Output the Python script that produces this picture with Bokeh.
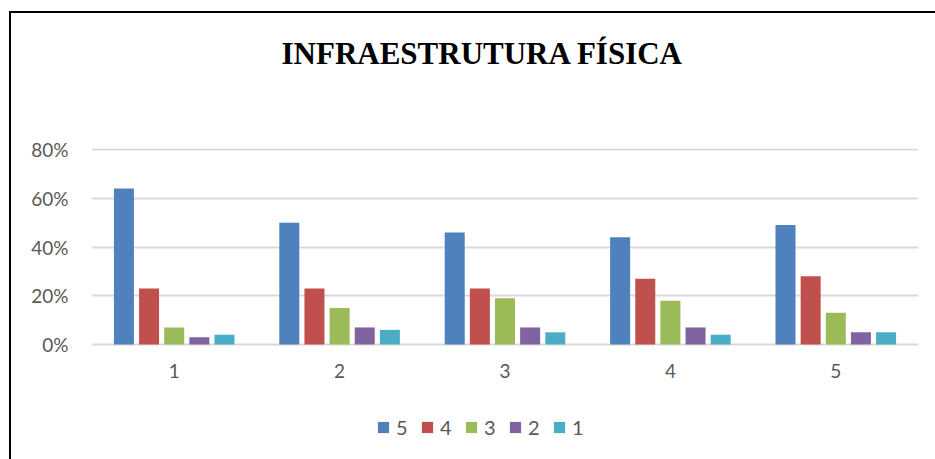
from bokeh.plotting import figure
from bokeh.models import (Range1d, ColumnDataSource, Legend, LegendItem, FixedTicker,
                          NumeralTickFormatter, Title)
from bokeh.core.properties import value
from bokeh.transform import dodge
from bokeh.embed import file_html
from bokeh.resources import INLINE

categories = [1, 2, 3, 4, 5]
category_labels = ["1", "2", "3", "4", "5"]
series_names = ["5", "4", "3", "2", "1"]
s5 = [0.64, 0.50, 0.46, 0.44, 0.49]
s4 = [0.23, 0.23, 0.23, 0.27, 0.28]
s3 = [0.07, 0.15, 0.19, 0.18, 0.13]
s2 = [0.03, 0.07, 0.07, 0.07, 0.05]
s1 = [0.04, 0.06, 0.05, 0.04, 0.05]
colors = ["#4F81BD", "#C0504D", "#9BBB59", "#8064A2", "#4BACC6"]
y_ticks = [0, 0.2, 0.4, 0.6, 0.8]

src = ColumnDataSource(dict(x=categories, lab=category_labels,
                            s5=s5, s4=s4, s3=s3, s2=s2, s1=s1))

# frame extends below the 0% line so that category labels and legend live inside it
px_per_unit = 195 / 0.8
p = figure(frame_width=827, frame_height=311, output_backend="svg", toolbar_location=None,
           x_range=Range1d(0.5, 5.5),
           y_range=Range1d(-115 / px_per_unit, 0.8 + 1 / px_per_unit),
           x_axis_location=None,
           min_border_left=80, min_border_right=17, min_border_top=135, min_border_bottom=0)
p.styles = {"border-top": "2px solid black", "border-left": "2px solid black",
            "margin-left": "9px", "margin-top": "11px"}
p.outline_line_color = None

step = 0.152
renderers = []
for i, (name, col) in enumerate(zip(series_names, colors)):
    r = p.vbar(x=dodge("x", (i - 2) * step, range=p.x_range), top="s" + name, width=0.121,
               source=src, color=col, line_color=None)
    renderers.append(r)

# category axis labels
p.text(x="x", y=-26 / px_per_unit, text="lab", source=src, text_align="center",
       text_baseline="middle", text_font=value("Lato"), text_font_size="19px",
       text_color="#595959")

spacer = Title(text=" ", text_font_size="10px", standoff=65)
p.add_layout(spacer, "above")
t = Title(text="INFRAESTRUTURA FÍSICA", align="left", offset=190,
          text_font="Liberation Serif", text_font_size="31px", text_font_style="bold",
          text_color="black", standoff=0)
p.add_layout(t, "above")

p.xgrid.grid_line_color = None
p.ygrid.grid_line_color = "#d9d9d9"
p.ygrid.grid_line_width = 2
p.yaxis.ticker = FixedTicker(ticks=y_ticks)
p.yaxis.formatter = NumeralTickFormatter(format="0%")
p.yaxis.axis_line_color = None
p.yaxis.major_tick_line_color = None
p.yaxis.minor_tick_line_color = None
p.yaxis.major_label_text_font = "Lato"
p.yaxis.major_label_text_font_size = "19px"
p.yaxis.major_label_text_color = "#595959"
p.yaxis.major_label_standoff = 17

legend = Legend(items=[LegendItem(label=n, renderers=[r]) for n, r in zip(series_names, renderers)],
                orientation="horizontal", location=(285, 20),
                label_text_font="Lato", label_text_font_size="20px", label_text_color="#595959",
                glyph_width=14, glyph_height=14, spacing=4, label_standoff=6, label_height=20,
                border_line_color=None, background_fill_alpha=0, margin=0, padding=0)
p.add_layout(legend, "center")

open("out.html", "w").write(file_html(p, INLINE))
